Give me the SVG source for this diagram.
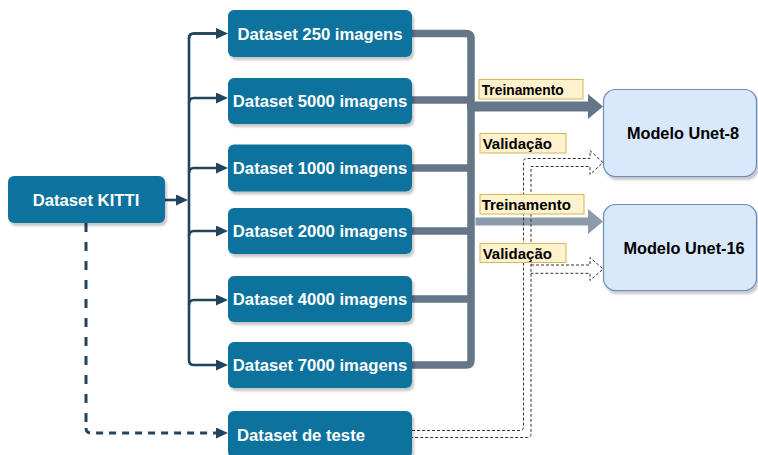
<svg xmlns="http://www.w3.org/2000/svg" width="758" height="455" viewBox="0 0 758 455">
  <defs>
    <filter id="shadow" x="-10%" y="-10%" width="130%" height="140%">
      <feDropShadow dx="2" dy="3" stdDeviation="1.2" flood-color="#000" flood-opacity="0.22"/>
    </filter>
    <marker id="navyArrow" markerUnits="userSpaceOnUse" markerWidth="12" markerHeight="11" refX="6" refY="5.5" orient="auto">
      <path d="M0,0 L12,5.5 L0,11 z" fill="#23445d"/>
    </marker>
    <style>
      .ds rect { fill: #10739e; filter: url(#shadow); }
      .ds text { fill: #ffffff; font-family: "Liberation Sans", Arial, Helvetica, sans-serif; font-weight: bold; font-size: 16.7px; text-anchor: middle; }
      .model rect { fill: #dae8fc; stroke: #6c8ebf; stroke-width: 1.2; filter: url(#shadow); }
      .model text { fill: #000000; font-family: "Liberation Sans", Arial, Helvetica, sans-serif; font-weight: bold; font-size: 16.3px; text-anchor: middle; }
      .lbl rect { fill: #fff2cc; stroke: #d6b656; stroke-width: 1; }
      .lbl text { fill: #000000; font-family: "Liberation Sans", Arial, Helvetica, sans-serif; font-weight: bold; font-size: 15px; }
      .navy { fill: none; stroke: #23445d; stroke-width: 2.6; }
      .gray { fill: none; stroke: #647687; stroke-width: 7.5; }
      .dot { fill: none; stroke: #333333; stroke-width: 1; stroke-dasharray: 3 2; }
    </style>
  </defs>

  <g id="connectors">
    <!-- KITTI to branches -->
    <line class="navy" x1="165" y1="200" x2="182" y2="200" marker-end="url(#navyArrow)"/>
    <path class="navy" d="M222 33.5 H194 Q189 33.5 189 38.5 V360 Q189 365 194 365 H222" marker-end="url(#navyArrow)"/>
    <path class="navy" d="M189 38.5 Q189 33.5 194 33.5 H222" marker-end="url(#navyArrow)"/>
    <path class="navy" d="M189 103 Q189 98 194 98 H222" marker-end="url(#navyArrow)"/>
    <path class="navy" d="M189 173 Q189 168 194 168 H222" marker-end="url(#navyArrow)"/>
    <path class="navy" d="M189 236 Q189 231 194 231 H222" marker-end="url(#navyArrow)"/>
    <path class="navy" d="M189 305 Q189 300 194 300 H222" marker-end="url(#navyArrow)"/>
    <!-- dashed to test set -->
    <path fill="none" stroke="#23445d" stroke-width="3" stroke-dasharray="9 10" d="M86 223 V428"/>
    <path fill="none" stroke="#23445d" stroke-width="3" stroke-dasharray="7 6" d="M86 428 Q86 433 91 433 H222" marker-end="url(#navyArrow)"/>

    <!-- gray bus -->
    <path class="gray" d="M412 33.5 H466 Q471 33.5 471 38.5 V360 Q471 365 466 365 H412"/>
    <line class="gray" x1="412" y1="100" x2="471" y2="100"/>
    <line class="gray" x1="412" y1="168" x2="471" y2="168"/>
    <line class="gray" x1="412" y1="231" x2="471" y2="231"/>
    <line class="gray" x1="412" y1="299" x2="471" y2="299"/>

    <!-- Treinamento arrows -->
    <path fill="#647687" d="M467 101.5 H588 V94 L603 106.5 L588 119 V111.5 H471 Q467 111.5 467 107.5 Z"/>
    <path fill="#8d9aa8" d="M475.5 217.5 H588 V209 L603 221.5 L588 234 V225.5 H475.5 Z"/>

    <!-- Validação dotted hollow arrows -->
    <path class="dot" d="M412 430.5 H520 Q523.5 430.5 523.5 427 V161.5 Q523.5 158.5 526.5 158.5 H590 V150.5 L603 162.5 L590 174.5 V166.5 H531 V434 Q531 437.5 527.5 437.5 H412"/>
    <path class="dot" d="M531 265 H590 V257.5 L603 269 L590 280.5 V273.3 H531"/>
  </g>

  <g id="kitti" class="ds">
    <rect x="8" y="176" width="157" height="47" rx="6"/>
    <text x="86" y="206">Dataset KITTI</text>
  </g>
  <g id="ds250" class="ds">
    <rect x="228" y="10" width="184" height="47" rx="6"/>
    <text x="320" y="40">Dataset 250 imagens</text>
  </g>
  <g id="ds5000" class="ds">
    <rect x="228" y="78" width="184" height="46" rx="6"/>
    <text x="320" y="107">Dataset 5000 imagens</text>
  </g>
  <g id="ds1000" class="ds">
    <rect x="228" y="144.5" width="184" height="47" rx="6"/>
    <text x="320" y="174">Dataset 1000 imagens</text>
  </g>
  <g id="ds2000" class="ds">
    <rect x="228" y="208" width="184" height="46" rx="6"/>
    <text x="320" y="237">Dataset 2000 imagens</text>
  </g>
  <g id="ds4000" class="ds">
    <rect x="228" y="276" width="184" height="46" rx="6"/>
    <text x="320" y="305">Dataset 4000 imagens</text>
  </g>
  <g id="ds7000" class="ds">
    <rect x="228" y="342" width="184" height="46" rx="6"/>
    <text x="320" y="371">Dataset 7000 imagens</text>
  </g>
  <g id="dsteste" class="ds">
    <rect x="228" y="411" width="184" height="47" rx="6"/>
    <text x="237" y="440.5" style="text-anchor:start">Dataset de teste</text>
  </g>

  <g id="label-treino1" class="lbl">
    <rect x="479" y="79.5" width="104" height="19.5"/>
    <text x="481.7" y="95" style="font-size:13.8px">Treinamento</text>
  </g>
  <g id="label-valid1" class="lbl">
    <rect x="480" y="133.5" width="86" height="19.5"/>
    <text x="482.7" y="148.5">Validação</text>
  </g>
  <g id="label-treino2" class="lbl">
    <rect x="480" y="194.5" width="104" height="19.5"/>
    <text x="481.7" y="210">Treinamento</text>
  </g>
  <g id="label-valid2" class="lbl">
    <rect x="480" y="243.5" width="86" height="19"/>
    <text x="482.7" y="258.5">Validação</text>
  </g>

  <g id="unet8" class="model">
    <rect x="603.5" y="89.5" width="153" height="87" rx="12"/>
    <text x="683" y="139">Modelo Unet-8</text>
  </g>
  <g id="unet16" class="model">
    <rect x="603.5" y="204.5" width="153" height="86" rx="12"/>
    <text x="684" y="253.5">Modelo Unet-16</text>
  </g>
</svg>
